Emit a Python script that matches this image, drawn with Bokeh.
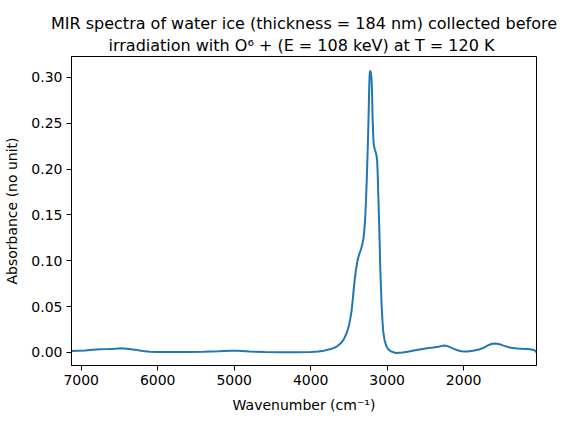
from bokeh.plotting import figure
from bokeh.models import Range1d, FixedTicker, Title, ColumnDataSource
from bokeh.embed import file_html
from bokeh.resources import INLINE

# Wavenumber (cm^-1) and absorbance
wavenumber = [7127, 7050, 6950, 6850, 6750, 6650, 6550, 6480, 6400, 6300, 6200, 6100,
              6000, 5800, 5600, 5400, 5200, 5050, 4950, 4800, 4600, 4400, 4200, 4000,
              3900, 3825, 3750, 3694, 3650, 3606, 3570, 3541, 3515, 3497, 3480, 3466,
              3452, 3440, 3425, 3410, 3395, 3380, 3362, 3344, 3325, 3309, 3298, 3287,
              3276, 3266, 3257, 3249, 3242, 3236, 3230, 3223, 3214, 3204, 3197, 3191,
              3182, 3174, 3160, 3148, 3138, 3131, 3124, 3118, 3111, 3105, 3098, 3092,
              3082, 3073, 3062, 3052, 3035, 3017, 2995, 2974, 2940, 2886, 2800, 2733,
              2650, 2559, 2480, 2400, 2330, 2280, 2254, 2220, 2180, 2130, 2080, 2030,
              1992, 1950, 1880, 1800, 1740, 1690, 1640, 1600, 1560, 1520, 1480, 1430,
              1380, 1330, 1293, 1240, 1180, 1130, 1097, 1075, 1060, 1048]
absorbance = [0.0015, 0.0018, 0.0022, 0.0030, 0.0035, 0.0038, 0.0042, 0.0045, 0.0041, 0.0031, 0.0016, 0.0008,
              0.0006, 0.0005, 0.0005, 0.0008, 0.0013, 0.0018, 0.0018, 0.0011, 0.0004, 0.0002, 0.0002, 0.0004,
              0.0010, 0.0020, 0.0035, 0.0050, 0.0070, 0.0100, 0.0140, 0.0190, 0.0250, 0.0305, 0.0380, 0.0450,
              0.0560, 0.0670, 0.0790, 0.0890, 0.0970, 0.1030, 0.1080, 0.1120, 0.1180, 0.1250, 0.1340, 0.1470,
              0.1680, 0.1910, 0.2150, 0.2380, 0.2620, 0.2860, 0.3020, 0.3075, 0.3050, 0.2980, 0.2800, 0.2570,
              0.2350, 0.2255, 0.2210, 0.2180, 0.2140, 0.2090, 0.1950, 0.1760, 0.1580, 0.1400, 0.1180, 0.0960,
              0.0720, 0.0520, 0.0350, 0.0230, 0.0140, 0.0084, 0.0045, 0.0026, 0.0008, -0.0005, 0.0000, 0.0008,
              0.0022, 0.0036, 0.0046, 0.0054, 0.0062, 0.0072, 0.0077, 0.0072, 0.0058, 0.0040, 0.0024, 0.0014,
              0.0010, 0.0010, 0.0018, 0.0032, 0.0050, 0.0075, 0.0092, 0.0098, 0.0096, 0.0088, 0.0075, 0.0062,
              0.0052, 0.0046, 0.0043, 0.0040, 0.0037, 0.0034, 0.0031, 0.0025, 0.0015, 0.0000]

x_ticks = [7000, 6000, 5000, 4000, 3000, 2000]
y_ticks = [0.00, 0.05, 0.10, 0.15, 0.20, 0.25, 0.30]

title_line1 = "MIR spectra of water ice (thickness = 184 nm) collected before"
title_line2 = "irradiation with O\u2076 +  (E = 108 keV) at T = 120 K"

FONT = "DejaVu Sans"

src = ColumnDataSource(data=dict(x=wavenumber, y=absorbance))

p = figure(width=567, height=416, output_backend="svg", toolbar_location=None,
           x_range=Range1d(7127, 1048), y_range=Range1d(-0.0142, 0.3228),
           min_border_left=71, min_border_right=31, min_border_top=56, min_border_bottom=51)

p.line("x", "y", source=src, line_color="#1f77b4", line_width=2)

p.add_layout(Title(text=title_line2, align="center", text_font=FONT, text_font_size="16px",
                   text_font_style="normal", text_color="black", standoff=3), "above")
p.add_layout(Title(text=title_line1, align="center", text_font=FONT, text_font_size="16px",
                   text_font_style="normal", text_color="black", standoff=0), "above")

p.xgrid.visible = False
p.ygrid.visible = False
p.outline_line_color = "black"
p.outline_line_alpha = 1
p.outline_line_width = 1
p.background_fill_color = "white"
p.border_fill_color = "white"

p.xaxis.ticker = FixedTicker(ticks=x_ticks)
p.yaxis.ticker = FixedTicker(ticks=y_ticks)
p.yaxis.major_label_overrides = {t: f"{t:.2f}" for t in y_ticks}
p.xaxis.major_label_overrides = {t: str(t) for t in x_ticks}

for ax in (p.xaxis[0], p.yaxis[0]):
    ax.axis_line_color = "black"
    ax.major_tick_line_color = "black"
    ax.major_tick_out = 5
    ax.major_tick_in = 0
    ax.minor_tick_line_color = None
    ax.major_label_text_font = FONT
    ax.major_label_text_font_size = "14px"
    ax.major_label_text_color = "black"
    ax.major_label_standoff = 4
    ax.axis_label_text_font = FONT
    ax.axis_label_text_font_size = "14px"
    ax.axis_label_text_font_style = "normal"
    ax.axis_label_text_color = "black"

p.xaxis.axis_label_standoff = 9
p.yaxis.axis_label_standoff = 8

p.xaxis.axis_label = "Wavenumber (cm\u207b\u00b9)"
p.yaxis.axis_label = "Absorbance (no unit)"

open("out.html", "w").write(file_html(p, INLINE))
